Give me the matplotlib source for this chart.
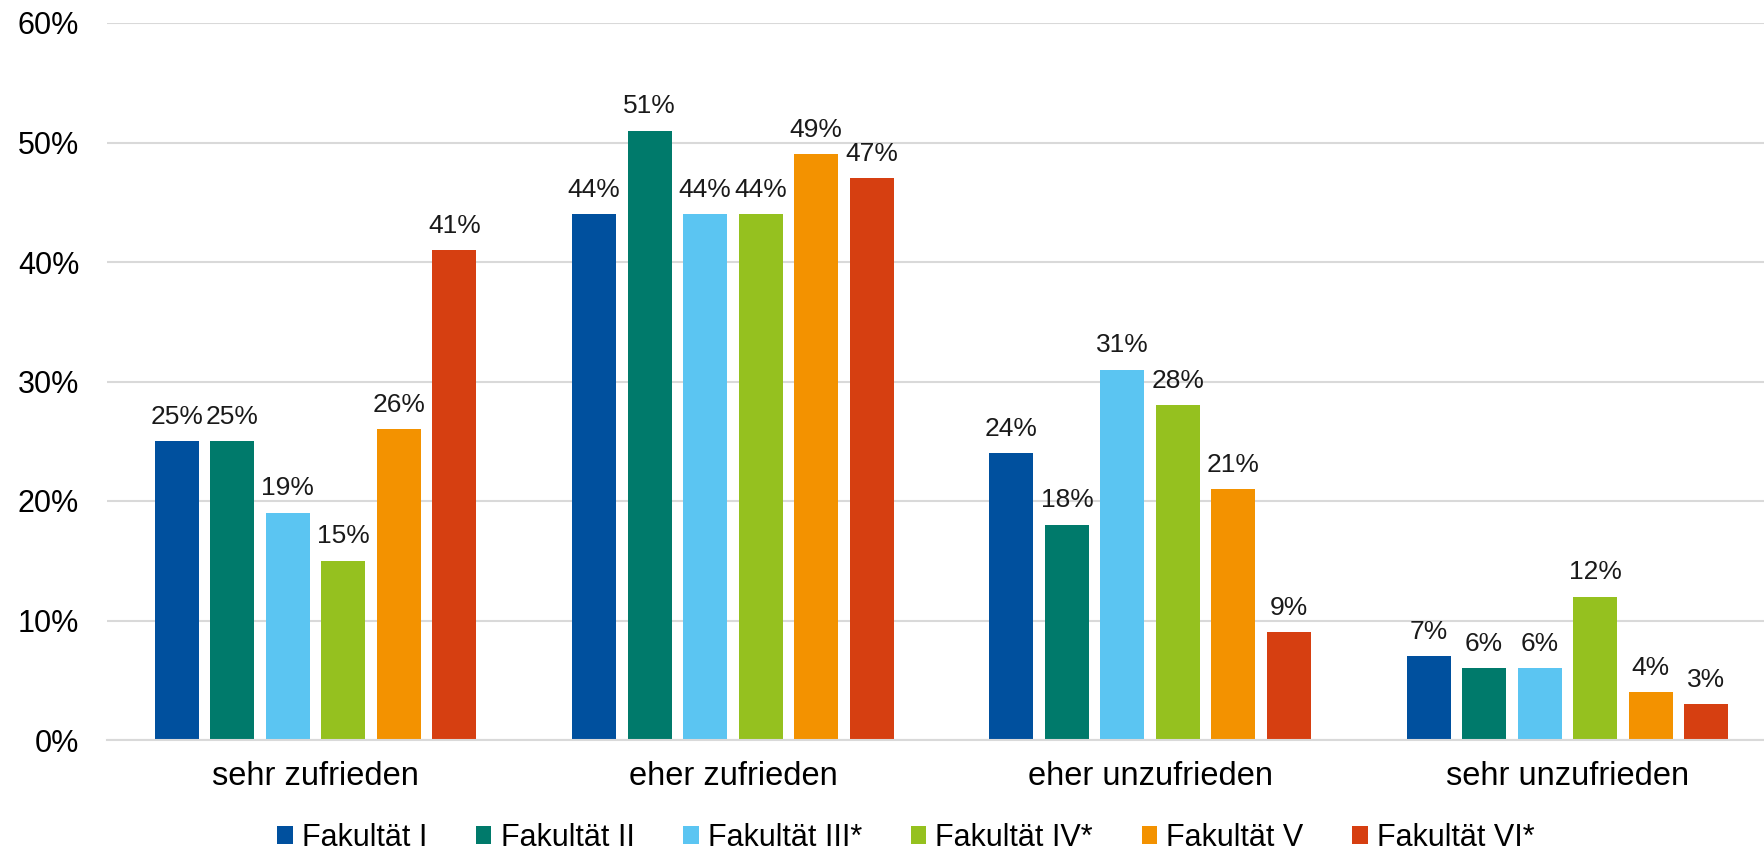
import numpy as np
import matplotlib
matplotlib.use("Agg")
import matplotlib.pyplot as plt
from matplotlib.patches import Patch

plt.rcParams['font.family'] = ['Liberation Sans', 'DejaVu Sans']

categories = ["sehr zufrieden", "eher zufrieden", "eher unzufrieden", "sehr unzufrieden"]
series_names = ["Fakultät I", "Fakultät II", "Fakultät III*", "Fakultät IV*", "Fakultät V", "Fakultät VI*"]
fak_1 = [25, 44, 24, 7]
fak_2 = [25, 51, 18, 6]
fak_3 = [19, 44, 31, 6]
fak_4 = [15, 44, 28, 12]
fak_5 = [26, 49, 21, 4]
fak_6 = [41, 47, 9, 3]
y_ticks = [0, 10, 20, 30, 40, 50, 60]

colors = ["#00509E", "#007A6B", "#5BC5F2", "#95C11F", "#F39200", "#D63F11"]
all_values = [fak_1, fak_2, fak_3, fak_4, fak_5, fak_6]

W, H = 1764, 852
fig = plt.figure(figsize=(W / 100, H / 100), dpi=100)
# plot area from pixel positions in the reference (extends a bit past the right edge)
left, right, top, bottom = 107, 1764, 23, 740
ax = fig.add_axes([left / W, 1 - bottom / H, (right - left) / W, (bottom - top) / H])

x = np.arange(len(categories))
pitch = 0.133
width = 0.1055
for i, (vals, name, c) in enumerate(zip(all_values, series_names, colors)):
    pos = x + (i - 2.5) * pitch
    bars = ax.bar(pos, vals, width=width, color=c, label=name, zorder=3)
    for xp, v in zip(pos, vals):
        ax.annotate(f"{v}%", (xp, v), xytext=(0, 9), textcoords="offset points",
                    ha="center", va="bottom", fontsize=19, color="#1a1a1a")

ax.set_ylim(0, 60)
ax.set_xlim(-0.5, 3.5 - 12 / 417.2)
ax.set_yticks(y_ticks)
ax.set_yticklabels([f"{t}%" for t in y_ticks], fontsize=22)
ax.set_xticks(x)
ax.set_xticklabels(categories, fontsize=23.5)
ax.tick_params(axis="y", length=0, pad=20)
ax.tick_params(axis="x", length=0, pad=15)
ax.grid(axis="y", color="#D9D9D9", linewidth=1.5, zorder=0)
for s in ["top", "right", "left"]:
    ax.spines[s].set_visible(False)
ax.spines["bottom"].set_color("#D9D9D9")
ax.spines["bottom"].set_linewidth(1.5)
ax.spines["bottom"].set_zorder(4)

handles = [Patch(facecolor=c, label=n) for c, n in zip(colors, series_names)]
fig.legend(handles=handles, loc="center", bbox_to_anchor=(906 / W, 1 - 838 / H),
           ncol=6, frameon=False, fontsize=22, handlelength=0.5, handleheight=0.5,
           handletextpad=0.3, columnspacing=1.6, borderpad=0)

fig.savefig("out.png", dpi=100)
